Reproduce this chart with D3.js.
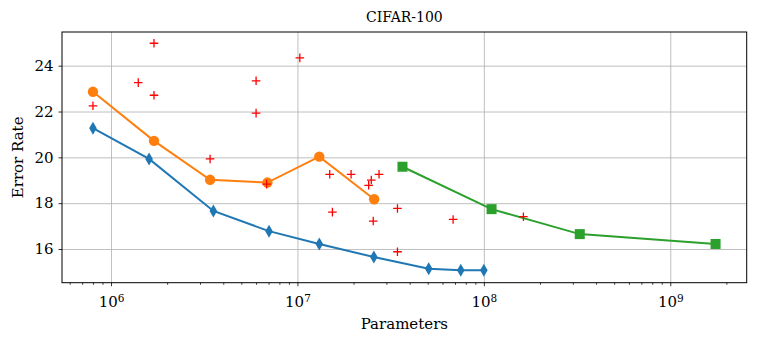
<!DOCTYPE html>
<html>
<head>
<meta charset="utf-8">
<script src="https://cdn.jsdelivr.net/npm/d3@7"></script>
<style>
  body { margin: 0; background: #fff; }
  svg { font-family: 'DejaVu Serif', serif; }
  .grid line { stroke: #b0b0b0; stroke-width: 0.8; }
  .grid path { display: none; }
  .axis path { display: none; }
  .axis line { stroke: #000; stroke-width: 0.8; }
  .axis text { fill: #000; font-family: 'DejaVu Serif', serif; }
</style>
</head>
<body>
<svg id="chart" width="763" height="343"></svg>
<script>
// blue series (diamonds)
const blueParams = [8.0e5, 1.6e6, 3.54e6, 7.04e6, 1.31e7, 2.57e7, 5.06e7, 7.52e7, 1.0e8];
const blueError = [21.27, 19.93, 17.66, 16.78, 16.22, 15.65, 15.14, 15.07, 15.07];

// orange series (circles)
const orangeParams = [8.0e5, 1.7e6, 3.4e6, 6.9e6, 1.31e7, 2.58e7];
const orangeError = [22.86, 20.72, 19.02, 18.90, 20.03, 18.17];

// green series (squares)
const greenParams = [3.66e7, 1.1e8, 3.27e8, 1.75e9];
const greenError = [19.59, 17.74, 16.65, 16.22];

// other models (red crosses)
const redParams = [8.0e5, 1.4e6, 1.7e6, 1.7e6, 3.4e6, 6.0e6, 6.0e6, 1.03e7, 6.83e6, 1.49e7,
  1.94e7, 2.49e7, 2.41e7, 2.74e7, 1.54e7, 2.55e7, 3.44e7, 3.44e7, 6.84e7, 1.63e8];
const redError = [22.25, 23.26, 24.98, 22.71, 19.93, 23.34, 21.93, 24.34, 18.83, 19.26,
  19.26, 19.01, 18.78, 19.26, 17.61, 17.22, 17.77, 15.88, 17.29, 17.41];

const xMajor = [1e6, 1e7, 1e8, 1e9];
const yTicks = [16, 18, 20, 22, 24];
const title = 'CIFAR-100';
const xLabel = 'Parameters';
const yLabel = 'Error Rate';

const svg = d3.select('#chart');
const plotLeft = 62, plotRight = 746.7, plotTop = 32, plotBottom = 282.7;

const x = d3.scaleLog()
  .domain([Math.pow(10, 5.737), Math.pow(10, 9.41)])
  .range([plotLeft, plotRight]);
const y = d3.scaleLinear()
  .domain([14.53, 25.47])
  .range([plotBottom, plotTop]);

const xMinor = [];
for (let k = 5; k <= 9; k++) {
  for (let m = 2; m <= 9; m++) {
    const v = m * Math.pow(10, k);
    if (v >= x.domain()[0] && v <= x.domain()[1]) xMinor.push(v);
  }
}

// grid
svg.append('g')
  .attr('class', 'grid')
  .attr('transform', `translate(0,${plotBottom})`)
  .call(d3.axisBottom(x).tickValues(xMajor).tickSize(-(plotBottom - plotTop)).tickFormat(''));
svg.append('g')
  .attr('class', 'grid')
  .attr('transform', `translate(${plotLeft},0)`)
  .call(d3.axisLeft(y).tickValues(yTicks).tickSize(-(plotRight - plotLeft)).tickFormat(''));

// series
function series(params, errors, color) {
  const pts = params.map((p, i) => [p, errors[i]]);
  svg.append('path')
    .datum(pts)
    .attr('fill', 'none')
    .attr('stroke', color)
    .attr('stroke-width', 2)
    .attr('d', d3.line().x(d => x(d[0])).y(d => y(d[1])));
  return pts;
}

const bluePts = series(blueParams, blueError, '#1f77b4');
svg.append('g').selectAll('path')
  .data(bluePts)
  .enter().append('path')
    .attr('transform', d => `translate(${x(d[0])},${y(d[1])})`)
    .attr('d', 'M0,-6.5L3.8,0L0,6.5L-3.8,0Z')
    .attr('fill', '#1f77b4');

const orangePts = series(orangeParams, orangeError, '#ff7f0e');
svg.append('g').selectAll('circle')
  .data(orangePts)
  .enter().append('circle')
    .attr('cx', d => x(d[0]))
    .attr('cy', d => y(d[1]))
    .attr('r', 5.2)
    .attr('fill', '#ff7f0e');

const greenPts = series(greenParams, greenError, '#2ca02c');
svg.append('g').selectAll('rect')
  .data(greenPts)
  .enter().append('rect')
    .attr('x', d => x(d[0]) - 5)
    .attr('y', d => y(d[1]) - 5)
    .attr('width', 10)
    .attr('height', 10)
    .attr('fill', '#2ca02c');

svg.append('g').selectAll('path')
  .data(redParams.map((p, i) => [p, redError[i]]))
  .enter().append('path')
    .attr('transform', d => `translate(${x(d[0])},${y(d[1])})`)
    .attr('d', 'M-4.3,0H4.3M0,-4.3V4.3')
    .attr('stroke', '#ff0000')
    .attr('stroke-width', 1.3)
    .attr('fill', 'none');

// axes
const xAxis = svg.append('g')
  .attr('class', 'axis')
  .attr('transform', `translate(0,${plotBottom})`)
  .call(d3.axisBottom(x).tickValues(xMajor).tickSize(3.5).tickPadding(5).tickFormat(''));
xAxis.selectAll('.tick text').each(function(d) {
  const t = d3.select(this);
  t.attr('font-size', 15).attr('dy', '1.05em');
  t.append('tspan').text('10');
  t.append('tspan').attr('dy', '-0.45em').attr('font-size', 10.5).text(Math.round(Math.log10(d)));
});
svg.append('g')
  .attr('class', 'axis')
  .attr('transform', `translate(0,${plotBottom})`)
  .call(d3.axisBottom(x).tickValues(xMinor).tickSize(2).tickFormat(''));

svg.append('g')
  .attr('class', 'axis')
  .attr('transform', `translate(${plotLeft},0)`)
  .call(d3.axisLeft(y).tickValues(yTicks).tickSize(3.5).tickPadding(5))
  .selectAll('.tick text')
    .attr('font-size', 15);

// frame
svg.append('rect')
  .attr('x', plotLeft)
  .attr('y', plotTop)
  .attr('width', plotRight - plotLeft)
  .attr('height', plotBottom - plotTop)
  .attr('fill', 'none')
  .attr('stroke', '#000')
  .attr('stroke-width', 1);

// labels
svg.append('text')
  .attr('x', (plotLeft + plotRight) / 2)
  .attr('y', 22)
  .attr('text-anchor', 'middle')
  .attr('font-size', 14)
  .text(title);
svg.append('text')
  .attr('x', (plotLeft + plotRight) / 2)
  .attr('y', 329)
  .attr('text-anchor', 'middle')
  .attr('font-size', 15)
  .text(xLabel);
svg.append('text')
  .attr('transform', `translate(23,${(plotTop + plotBottom) / 2}) rotate(-90)`)
  .attr('text-anchor', 'middle')
  .attr('font-size', 15)
  .text(yLabel);
</script>
</body>
</html>
